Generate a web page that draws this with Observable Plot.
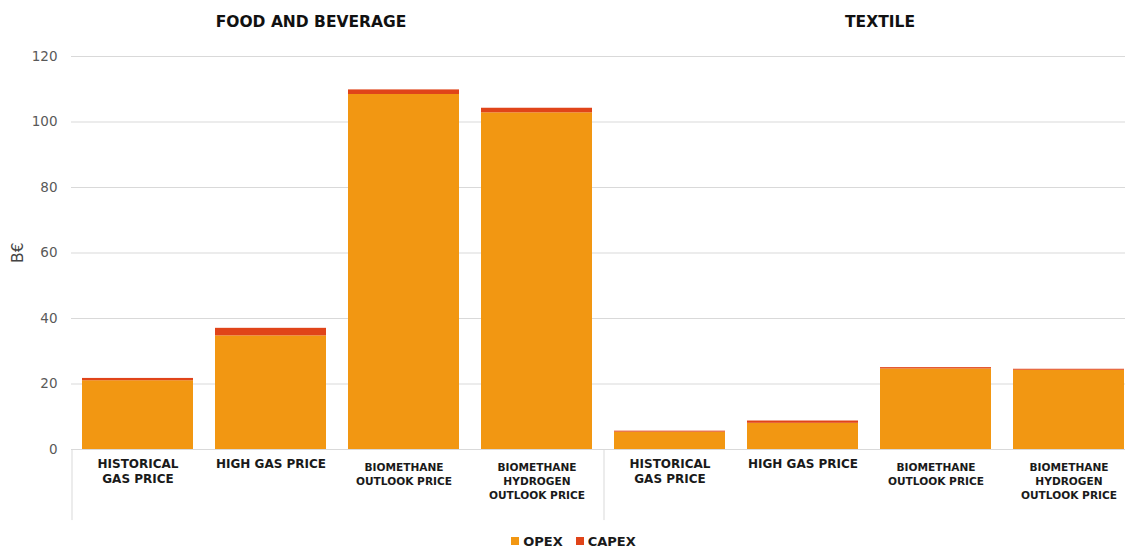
<!DOCTYPE html>
<html>
<head>
<meta charset="utf-8">
<script src="https://cdn.jsdelivr.net/npm/d3@7"></script>
<script src="https://cdn.jsdelivr.net/npm/@observablehq/plot@0.6"></script>
<style>
  html, body { margin: 0; padding: 0; background: #fff; overflow: hidden; }
  #chart svg { display: block; overflow: hidden; }
  #legend { height: 22px; display: flex; justify-content: center; align-items: center; gap: 13px;
    font-family: "DejaVu Sans", sans-serif; font-weight: bold; font-size: 13px; color: #1a1a1a; padding-left: 22px; }
  #legend span.sw { display: inline-block; width: 8px; height: 8px; margin-right: 4px; vertical-align: middle; }
  #legend .item { display: flex; align-items: center; }
</style>
</head>
<body>
<div id="chart"></div>
<div id="legend"></div>
<script>
const sectors = ["FOOD AND BEVERAGE", "TEXTILE"];
const scenarios = ["HISTORICAL\nGAS PRICE", "HIGH GAS PRICE", "BIOMETHANE\nOUTLOOK PRICE", "BIOMETHANE\nHYDROGEN\nOUTLOOK PRICE"];
const opexFood = [21.0, 34.7, 108.4, 102.8];
const capexFood = [0.7, 2.3, 1.4, 1.4];
const opexTextile = [5.3, 8.0, 24.6, 24.2];
const capexTextile = [0.3, 0.7, 0.4, 0.3];
const series = ["OPEX", "CAPEX"];
const colors = ["#F29712", "#E04419"];
const yTicks = [0, 20, 40, 60, 80, 100, 120];
const yLabel = "B€";

const keys = [];
sectors.forEach(s => scenarios.forEach(c => keys.push(s + "|" + c)));
const opexAll = [...opexFood, ...opexTextile];
const capexAll = [...capexFood, ...capexTextile];
const rows = [];
keys.forEach((k, i) => rows.push({key: k, series: "OPEX", value: opexAll[i]}));
keys.forEach((k, i) => rows.push({key: k, series: "CAPEX", value: capexAll[i]}));
const labelRows = keys.map(k => ({key: k, label: k.split("|")[1]}));
const bigLabels = labelRows.filter((d, i) => i % 4 < 2);
const smallLabels = labelRows.filter((d, i) => i % 4 >= 2);

const font = "DejaVu Sans, sans-serif";

const chart = Plot.plot({
  width: 1125,
  height: 530,
  marginTop: 56,
  marginBottom: 81,
  marginLeft: 71,
  marginRight: 0,
  style: {fontFamily: font, background: "#fff"},
  x: {domain: keys, range: [71, 1135], paddingInner: 0.165, paddingOuter: 0.0825, axis: null},
  y: {domain: [0, 120], ticks: yTicks, axis: null},
  color: {domain: series, range: colors},
  marks: [
    Plot.gridY(yTicks, {stroke: "#d9d9d9", strokeOpacity: 1, strokeWidth: 1}),
    Plot.axisY(yTicks, {tickSize: 0, tickPadding: 14, fontSize: 13.5, fill: "#595959", fontFamily: font, label: null}),
    Plot.text([yLabel], {frameAnchor: "left", dx: -53, dy: 10, rotate: -90, text: d => d, fontSize: 15.5, fill: "#444"}),
    Plot.barY(rows, {x: "key", y: "value", fill: "series", order: series}),
    Plot.ruleY([0], {stroke: "#d9d9d9"}),
    Plot.ruleX([keys[0], keys[4]], {x: d => d, y1: 0, y2: -21.7, dx: -66, stroke: "#d9d9d9"}),
    Plot.text(bigLabels, {x: "key", y: 0, text: "label", dy: 8, lineAnchor: "top", fontSize: 12,
      fontWeight: "bold", fill: "#1a1a1a", lineHeight: 1.25}),
    Plot.text(smallLabels, {x: "key", y: 0, text: "label", dy: 11, lineAnchor: "top", fontSize: 10.6,
      fontWeight: "bold", fill: "#1a1a1a", lineHeight: 1.33}),
    Plot.text([sectors[0]], {x: [keys[1]], frameAnchor: "top", dy: -41, dx: 40, text: d => d,
      fontSize: 15.5, fontWeight: "bold", fill: "#111"}),
    Plot.text([sectors[1]], {x: [keys[6]], frameAnchor: "top", dy: -41, dx: -56, text: d => d,
      fontSize: 15.5, fontWeight: "bold", fill: "#111"})
  ]
});
document.getElementById("chart").appendChild(chart);

const legend = document.getElementById("legend");
series.forEach((s, i) => {
  const item = document.createElement("div");
  item.className = "item";
  const sw = document.createElement("span");
  sw.className = "sw";
  sw.style.background = colors[i];
  item.appendChild(sw);
  item.appendChild(document.createTextNode(s));
  legend.appendChild(item);
});
</script>
</body>
</html>
